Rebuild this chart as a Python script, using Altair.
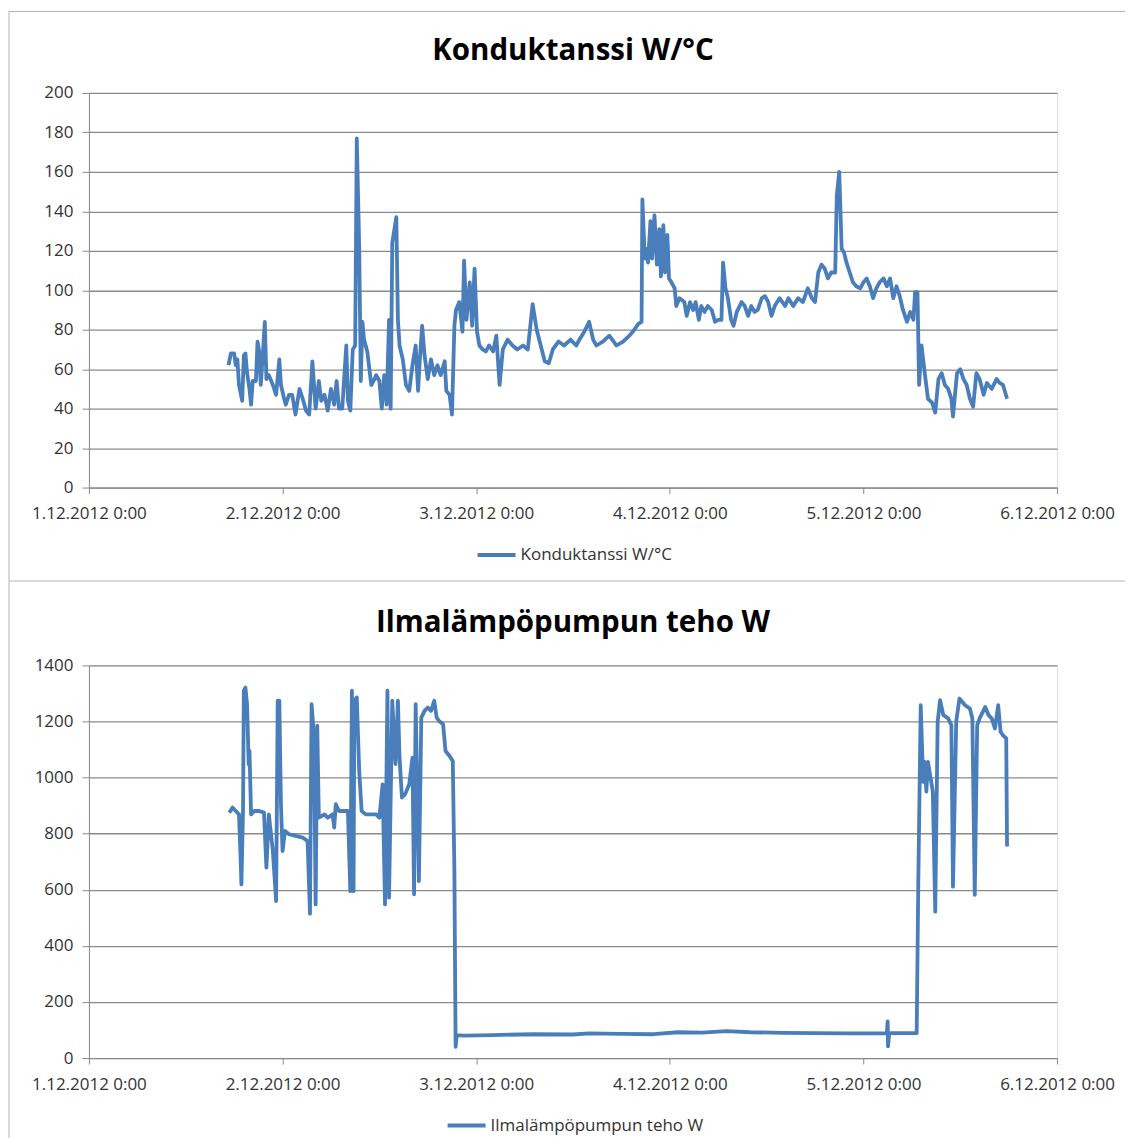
import altair as alt
import pandas as pd

FONT = "Open Sans"
BLUE = "#4A7EBB"
GRID = "#8A8A8A"
BORDER = "#B4B4B4"
TXT = "#333333"

# x axis: hours since 1.12.2012 0:00
x_tick_hours = [0, 24, 48, 72, 96, 120]
x_tick_labels = ["1.12.2012 0:00", "2.12.2012 0:00", "3.12.2012 0:00",
                 "4.12.2012 0:00", "5.12.2012 0:00", "6.12.2012 0:00"]

title_top = "Konduktanssi W/°C"
title_bottom = "Ilmalämpöpumpun teho W"

# (hours since 1.12.2012 0:00, W/°C)
konduktanssi = [
    (17.3, 62), (17.6, 68), (18.0, 68), (18.2, 62), (18.4, 65), (18.6, 52), (19.0, 44), (19.2, 67),
    (19.4, 68), (19.6, 58), (19.9, 50), (20.1, 42), (20.3, 54), (20.7, 54), (20.9, 74), (21.1, 69),
    (21.3, 52), (21.5, 64), (21.8, 84), (22.0, 55), (22.3, 57), (22.8, 52), (23.2, 47), (23.6, 65),
    (23.8, 52), (24.2, 45), (24.4, 42), (24.8, 47), (25.2, 47), (25.6, 37), (26.1, 50), (26.5, 45),
    (26.9, 39), (27.3, 37), (27.7, 64), (28.1, 40), (28.5, 54), (28.8, 44), (29.2, 47), (29.6, 39),
    (30.0, 50), (30.4, 42), (30.7, 54), (31.0, 40), (31.4, 40), (31.9, 72), (32.1, 44), (32.4, 39),
    (32.7, 70), (33.0, 72), (33.2, 177), (33.5, 122), (33.7, 54), (33.9, 84), (34.1, 75), (34.5, 69),
    (35.0, 52), (35.4, 55), (35.6, 57), (36.0, 54), (36.3, 40), (36.6, 57), (36.9, 42), (37.2, 85),
    (37.4, 40), (37.6, 124), (38.1, 137), (38.3, 85), (38.5, 72), (38.9, 65), (39.3, 52), (39.7, 49),
    (40.1, 62), (40.5, 72), (40.8, 49), (41.0, 64), (41.3, 82), (41.6, 67), (42.0, 55), (42.4, 65),
    (42.8, 57), (43.2, 62), (43.6, 57), (44.1, 64), (44.3, 49), (44.7, 47), (45.0, 37), (45.3, 82),
    (45.5, 90), (45.9, 94), (46.3, 79), (46.5, 115), (46.8, 85), (47.2, 104), (47.5, 82), (47.8, 111),
    (48.1, 79), (48.4, 72), (48.8, 70), (49.2, 69), (49.6, 72), (50.1, 69), (50.5, 77), (50.9, 52),
    (51.3, 70), (51.9, 75), (52.5, 72), (53.1, 70), (53.8, 72), (54.4, 70), (55.0, 93), (55.5, 80),
    (56.0, 72), (56.5, 64), (57.0, 63), (57.5, 70), (58.2, 74), (58.9, 72), (59.7, 75), (60.4, 72),
    (60.8, 75), (61.4, 79), (62.0, 84), (62.5, 75), (62.9, 72), (63.7, 74), (64.5, 77), (65.4, 72),
    (66.2, 74), (67.0, 77), (67.6, 80), (68.1, 83), (68.5, 84), (68.6, 146), (68.9, 116), (69.1, 121),
    (69.3, 114), (69.6, 135), (69.8, 116), (70.1, 138), (70.4, 113), (70.7, 131), (70.9, 107), (71.2, 133),
    (71.4, 109), (71.7, 128), (71.9, 106), (72.2, 104), (72.6, 101), (72.8, 92), (73.2, 96), (73.8, 94),
    (74.1, 87), (74.5, 94), (74.9, 90), (75.2, 94), (75.6, 85), (75.9, 92), (76.3, 89), (76.7, 92),
    (77.2, 90), (77.6, 84), (78.0, 85), (78.4, 85), (78.6, 114), (78.9, 101), (79.2, 96), (79.6, 85),
    (79.9, 82), (80.3, 89), (80.9, 94), (81.3, 92), (81.7, 87), (82.1, 92), (82.5, 89), (82.9, 90),
    (83.4, 96), (83.8, 97), (84.2, 94), (84.6, 87), (85.0, 92), (85.6, 96), (86.3, 92), (86.7, 96),
    (87.3, 92), (87.9, 96), (88.5, 94), (89.1, 101), (89.6, 96), (90.0, 94), (90.4, 109), (90.8, 113),
    (91.2, 111), (91.6, 106), (92.0, 109), (92.5, 109), (92.7, 148), (93.0, 160), (93.3, 121), (93.6, 119),
    (93.9, 114), (94.3, 109), (94.7, 104), (95.1, 102), (95.6, 101), (96.0, 104), (96.4, 106), (96.8, 102),
    (97.2, 96), (97.6, 101), (98.0, 104), (98.5, 106), (98.9, 102), (99.3, 106), (99.7, 96), (100.1, 102),
    (100.5, 97), (100.9, 90), (101.4, 84), (101.8, 89), (102.2, 85), (102.4, 99), (102.7, 99), (102.9, 52),
    (103.2, 72), (103.6, 58), (104.0, 45), (104.5, 43), (104.9, 38), (105.3, 55), (105.7, 58), (106.1, 52),
    (106.5, 50), (106.9, 45), (107.1, 36), (107.6, 58), (108.0, 60), (108.4, 55), (108.8, 52), (109.2, 45),
    (109.6, 41), (110.0, 58), (110.4, 55), (110.9, 47), (111.3, 53), (111.9, 50), (112.5, 55), (112.9, 53),
    (113.3, 52), (113.8, 45),
]

# (hours since 1.12.2012 0:00, W)
teho = [
    (17.4, 875), (17.8, 893), (18.2, 881), (18.6, 869), (18.8, 714), (18.9, 619), (19.1, 881), (19.2, 1310),
    (19.4, 1321), (19.6, 1262), (19.8, 1048), (19.9, 1095), (20.1, 869), (20.5, 881), (21.1, 881), (21.7, 875),
    (22.0, 679), (22.3, 869), (22.8, 738), (23.2, 560), (23.4, 1274), (23.6, 1274), (23.8, 905), (24.0, 738),
    (24.3, 810), (24.8, 798), (25.6, 792), (26.5, 786), (27.1, 774), (27.4, 515), (27.6, 1262), (27.9, 1143),
    (28.1, 548), (28.3, 1185), (28.5, 857), (29.2, 869), (29.6, 857), (30.2, 869), (30.4, 822), (30.6, 905),
    (31.0, 881), (31.7, 881), (32.1, 881), (32.4, 595), (32.6, 1310), (32.8, 595), (32.9, 1274), (33.2, 1286),
    (33.5, 1024), (33.8, 881), (34.3, 869), (35.0, 869), (35.6, 869), (36.0, 857), (36.4, 976), (36.7, 548),
    (37.0, 1310), (37.2, 572), (37.6, 1274), (38.0, 1048), (38.3, 1274), (38.5, 1071), (38.8, 929), (39.2, 941),
    (39.7, 976), (40.1, 1071), (40.3, 584), (40.5, 1262), (40.9, 631), (41.2, 1214), (41.6, 1238), (42.0, 1250),
    (42.4, 1238), (42.8, 1274), (43.1, 1214), (43.4, 1202), (43.9, 1190), (44.2, 1095), (44.7, 1077), (45.1, 1059),
    (45.3, 667), (45.45, 40), (45.6, 82), (46.5, 80), (50.0, 82), (55.0, 85), (60.0, 84), (62.0, 88),
    (66.0, 86), (70.0, 85), (73.0, 92), (76.0, 91), (79.0, 96), (82.0, 92), (86.0, 90), (90.0, 89),
    (94.0, 88), (98.9, 89), (99.0, 131), (99.05, 42), (99.2, 89), (100.5, 89), (102.6, 89), (102.8, 629),
    (103.1, 1258), (103.4, 985), (103.6, 1056), (103.8, 950), (104.0, 1056), (104.2, 1021), (104.6, 950), (104.9, 522),
    (105.2, 1199), (105.5, 1276), (105.9, 1223), (106.5, 1211), (106.9, 1187), (107.1, 611), (107.5, 1199), (107.9, 1282),
    (108.6, 1258), (109.2, 1246), (109.5, 1211), (109.8, 582), (110.1, 1187), (110.4, 1211), (111.1, 1252), (111.5, 1223),
    (111.9, 1211), (112.3, 1175), (112.7, 1258), (113.0, 1163), (113.3, 1151), (113.7, 1140), (113.8, 754),
]

W = 969
label_expr = "[" + ",".join("'%s'" % s for s in x_tick_labels) + "][round(datum.value/24)]"
ONE = pd.DataFrame({"k": [0]})


def rule(x, x2, y, y2):
    return alt.Chart(ONE).mark_rule(color=BORDER, strokeWidth=1).encode(
        x=alt.value(x), x2=alt.value(x2), y=alt.value(y), y2=alt.value(y2))


def panel(pairs, name, ymax, ystep, height, legend_x, legend_y, extra):
    df = pd.DataFrame(pairs, columns=["h", "v"])
    df["series"] = name
    x = alt.X("h:Q", scale=alt.Scale(domain=[0, 120], nice=False, zero=False),
              axis=alt.Axis(values=x_tick_hours, labelExpr=label_expr, title=None, grid=False,
                            tickSize=6, labelPadding=12, domainColor=GRID, tickColor=GRID,
                            labelFontSize=17, labelColor=TXT, labelFont=FONT, labelFlush=False,
                            labelOverlap=False))
    y = alt.Y("v:Q", scale=alt.Scale(domain=[0, ymax], nice=False),
              axis=alt.Axis(values=list(range(0, ymax + 1, ystep)), format="d", title=None, grid=True,
                            gridColor=GRID, gridWidth=1.3, tickSize=7, labelPadding=9,
                            domainColor=GRID, tickColor=GRID, labelFontSize=17, labelColor=TXT,
                            labelFont=FONT))
    line = alt.Chart(df).mark_line(strokeWidth=3.8, strokeJoin="round").encode(
        x=x, y=y,
        color=alt.Color("series:N", scale=alt.Scale(domain=[name], range=[BLUE]),
                        legend=alt.Legend(orient="none", legendX=legend_x, legendY=legend_y, title=None,
                                          symbolType="stroke", symbolSize=1444, symbolStrokeWidth=3.8,
                                          labelFontSize=17, labelFont=FONT, labelColor=TXT,
                                          labelLimit=0, padding=0, labelOffset=3)))
    title = alt.Chart(ONE).mark_text(
        text=name, font=FONT, fontSize=29.5, fontWeight="bold", color="#000000",
        align="center", baseline="alphabetic").encode(x=alt.value(W / 2), y=alt.value(-33))
    return alt.layer(line, title, *extra).properties(width=W, height=height)


top = panel(konduktanssi, title_top, 200, 20, 395, 387, 441.5,
            [rule(-80, -80, -81.5, 488.5), rule(-80, 1037, -81.5, -81.5), rule(-80, 1037, 488.5, 488.5)])
bottom = panel(teho, title_bottom, 1400, 200, 393, 357, 439.5,
               [rule(-80, -80, -84.5, 473)])

chart = alt.vconcat(top, bottom, spacing=178, bounds="flush").resolve_scale(
    color="independent"
).properties(
    padding={"left": 0, "top": 1.5, "right": 0, "bottom": 0}
).configure_view(stroke=None).configure(font=FONT)

chart.save("out.html", embed_options={"renderer": "svg", "actions": False})
